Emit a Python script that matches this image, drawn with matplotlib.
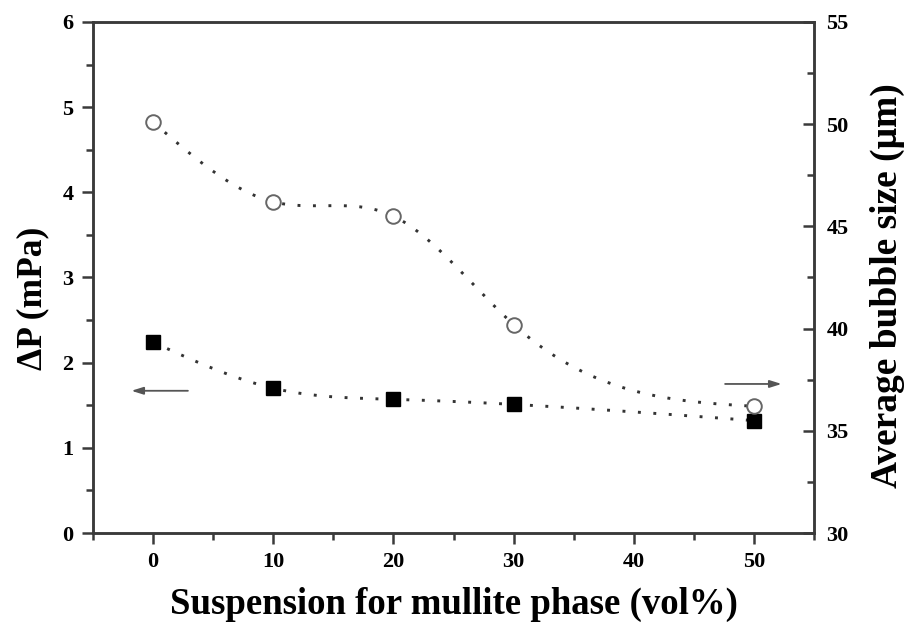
import numpy as np
import matplotlib
matplotlib.use("Agg")
import matplotlib.pyplot as plt
from matplotlib.ticker import MultipleLocator

plt.rcParams['font.family'] = ['Liberation Serif', 'DejaVu Serif']
plt.rcParams['font.weight'] = 'bold'

# Mullite-phase content of the suspension (vol%)
mullite_vol = [0, 10, 20, 30, 50]
# Pressure difference (mPa), left axis
delta_p = [2.24, 1.70, 1.57, 1.51, 1.32]
# Average bubble size (um), right axis
bubble_size = [50.1, 46.2, 45.5, 40.2, 36.2]


def natural_spline(x, y, n=300):
    """Natural cubic spline through (x, y), evaluated on a fine grid."""
    x = np.asarray(x, float)
    y = np.asarray(y, float)
    k = len(x)
    h = np.diff(x)
    A = np.zeros((k, k))
    b = np.zeros(k)
    A[0, 0] = A[-1, -1] = 1.0
    for i in range(1, k - 1):
        A[i, i - 1] = h[i - 1]
        A[i, i] = 2 * (h[i - 1] + h[i])
        A[i, i + 1] = h[i]
        b[i] = 6 * ((y[i + 1] - y[i]) / h[i] - (y[i] - y[i - 1]) / h[i - 1])
    m = np.linalg.solve(A, b)
    xs = np.linspace(x[0], x[-1], n)
    idx = np.clip(np.searchsorted(x, xs) - 1, 0, k - 2)
    x0, x1 = x[idx], x[idx + 1]
    hh = x1 - x0
    t0, t1 = x1 - xs, xs - x0
    ys = (m[idx] * t0 ** 3 / (6 * hh) + m[idx + 1] * t1 ** 3 / (6 * hh)
          + (y[idx] / hh - m[idx] * hh / 6) * t0
          + (y[idx + 1] / hh - m[idx + 1] * hh / 6) * t1)
    return xs, ys


fig = plt.figure(figsize=(9.07, 6.35), dpi=100)
ax = fig.add_axes([0.1025, 0.1606, 0.795, 0.8048])
ax2 = ax.twinx()

spine_c = '#3a3a3a'
dot_style = (0, (1, 4.3))

# Pressure difference: filled squares with dotted spline
xs, ys = natural_spline(mullite_vol, delta_p)
ax.plot(xs, ys, linestyle=dot_style, color='#333333', lw=2.1,
        dash_capstyle='butt', zorder=2)
ax.plot(mullite_vol, delta_p, linestyle='none', marker='s', ms=10,
        mfc='black', mec='black', zorder=3)

# Bubble size: open circles with dotted spline
xs2, ys2 = natural_spline(mullite_vol, bubble_size)
ax2.plot(xs2, ys2, linestyle=dot_style, color='#333333', lw=2.1,
         dash_capstyle='butt', zorder=2)
ax2.plot(mullite_vol, bubble_size, linestyle='none', marker='o', ms=10.5,
         mfc='white', mec='#666666', mew=1.4, zorder=3)

# Axis ranges and ticks
ax.set_xlim(-5, 55)
ax.set_ylim(0, 6)
ax2.set_ylim(30, 55)
ax.xaxis.set_major_locator(MultipleLocator(10))
ax.xaxis.set_minor_locator(MultipleLocator(5))
ax.yaxis.set_major_locator(MultipleLocator(1))
ax.yaxis.set_minor_locator(MultipleLocator(0.5))
ax2.yaxis.set_major_locator(MultipleLocator(5))
ax2.yaxis.set_minor_locator(MultipleLocator(2.5))

ax.tick_params(axis='both', which='major', direction='out', length=8,
               width=1.8, color=spine_c, labelsize=16, pad=6)
ax.tick_params(axis='both', which='minor', direction='out', length=5,
               width=1.8, color=spine_c)
ax.tick_params(axis='x', which='both', top=False)
ax.tick_params(axis='y', which='both', right=False)
ax2.tick_params(axis='y', which='major', direction='in', length=8,
                width=1.8, color=spine_c, labelsize=16, pad=9)
ax2.tick_params(axis='y', which='minor', direction='in', length=5,
                width=1.8, color=spine_c)

for a in (ax, ax2):
    for s in a.spines.values():
        s.set_linewidth(1.8)
        s.set_color(spine_c)

for lbl in ax.get_xticklabels() + ax.get_yticklabels() + ax2.get_yticklabels():
    lbl.set_fontweight('bold')

ax.set_xlabel('Suspension for mullite phase (vol%)', fontsize=26.5,
              fontweight='bold')
ax.set_ylabel('ΔP (mPa)', fontsize=25.5, fontweight='bold')
ax2.set_ylabel('Average bubble size (μm)', fontsize=27, fontweight='bold')
ax.xaxis.set_label_coords(0.5, -0.105)
ax.yaxis.set_label_coords(-0.06, 0.46)
ax2.yaxis.set_label_coords(1.078, 0.485)

# Arrows pointing to the axis each series belongs to
arrow_kw = dict(arrowstyle='-|>,head_length=0.7,head_width=0.22',
                color='#555555', lw=1.3, shrinkA=0, shrinkB=0)
ax.annotate('', xy=(-1.8, 1.67), xytext=(2.9, 1.67), arrowprops=arrow_kw)
ax.annotate('', xy=(52.3, 1.75), xytext=(47.6, 1.75), arrowprops=arrow_kw)

fig.savefig('out.png', dpi=100)
